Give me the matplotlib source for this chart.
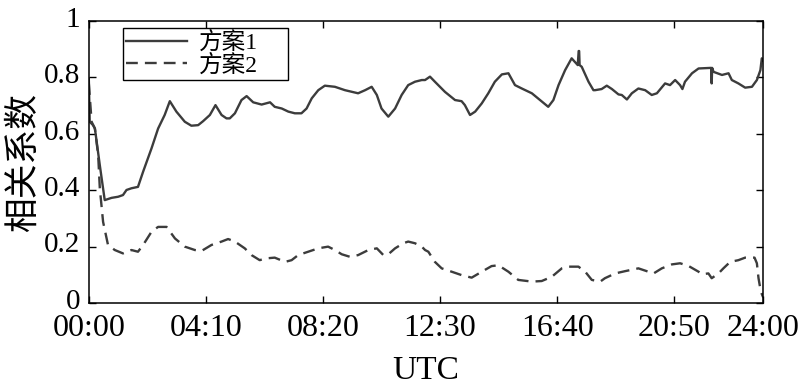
import numpy as np
import matplotlib
matplotlib.use('Agg')
import matplotlib.pyplot as plt
import matplotlib.transforms as mtransforms

# fonts: Times-like for digits, CJK fallback for Chinese
plt.rcParams['font.family'] = ['Liberation Serif', 'Noto Sans CJK SC']
plt.rcParams['axes.unicode_minus'] = False

# scheme 1 (solid): minutes after 00:00 UTC, correlation coefficient
t1 = [0, 2, 9, 13, 23.5, 34, 48.5, 62.7, 73, 80.5, 91, 105, 116, 134, 148, 162, 173,
      187, 205, 219, 233.5, 244, 258.5, 270.5, 283.5, 294, 301, 312, 326, 337, 351,
      369, 387, 397, 412, 426, 440, 454, 465, 476, 490, 504, 525.5, 547, 575, 590,
      604, 615, 625, 639.5, 654, 668, 682, 696.5, 711, 718, 728.5, 739, 760.5, 782,
      796, 803, 814, 825, 839, 853, 867, 882, 896, 910, 924.5, 946, 963.5, 981, 992,
      1003, 1017, 1031, 1044, 1046, 1047, 1048, 1052.5, 1067, 1077.5, 1081, 1095,
      1106, 1117, 1131, 1138, 1149, 1159.5, 1173.5, 1188, 1202, 1213, 1230.5, 1241,
      1252, 1262.5, 1267.5, 1273, 1288, 1302, 1327, 1329, 1330, 1331, 1334, 1352,
      1366, 1373, 1387, 1401.5, 1416, 1426.5, 1434, 1437, 1440]
r1 = [0.797, 0.643, 0.631, 0.619, 0.489, 0.365, 0.373, 0.377, 0.383, 0.401, 0.407,
      0.412, 0.466, 0.549, 0.619, 0.667, 0.716, 0.679, 0.643, 0.629, 0.631, 0.645,
      0.667, 0.702, 0.667, 0.655, 0.655, 0.673, 0.720, 0.734, 0.712, 0.704, 0.712,
      0.696, 0.690, 0.679, 0.673, 0.673, 0.690, 0.726, 0.755, 0.771, 0.767, 0.755,
      0.744, 0.755, 0.767, 0.738, 0.690, 0.661, 0.690, 0.738, 0.773, 0.785, 0.791,
      0.791, 0.803, 0.785, 0.749, 0.720, 0.716, 0.702, 0.667, 0.679, 0.708, 0.744,
      0.785, 0.811, 0.815, 0.773, 0.761, 0.744, 0.720, 0.696, 0.720, 0.773, 0.826,
      0.868, 0.844, 0.894, 0.894, 0.844, 0.838, 0.785, 0.755, 0.755, 0.759, 0.771,
      0.759, 0.740, 0.738, 0.722, 0.744, 0.761, 0.755, 0.738, 0.744, 0.779, 0.773,
      0.791, 0.773, 0.759, 0.785, 0.815, 0.832, 0.834, 0.834, 0.779, 0.834, 0.820,
      0.809, 0.815, 0.791, 0.779, 0.764, 0.767, 0.791, 0.826, 0.868, 0.860]

# scheme 2 (dashed)
t2 = [0, 6, 13, 20, 23.5, 30.5, 41, 55.5, 73, 91, 105, 116, 134, 148, 166, 184, 205,
      226.5, 241, 262, 283.5, 297.5, 312, 333, 347.5, 365, 376, 397, 419, 433, 447,
      468.5, 490, 511, 525.5, 540, 557.5, 575, 597, 615, 629, 639.5, 654, 671.5, 682,
      696.5, 711, 718, 725, 739, 753.5, 775, 796, 817.5, 839, 860, 874.5, 896, 917,
      946, 967, 988.5, 1010, 1024, 1045.5, 1060, 1074, 1092, 1102, 1124, 1145,
      1173.5, 1195, 1206, 1223.5, 1245, 1262.5, 1280, 1302, 1309, 1323, 1330, 1344.5,
      1355, 1369.5, 1387, 1401.5, 1421.5, 1426.5, 1430, 1435, 1440]
r2 = [0.780, 0.643, 0.619, 0.525, 0.407, 0.288, 0.206, 0.188, 0.176, 0.188, 0.182,
      0.206, 0.253, 0.270, 0.270, 0.229, 0.200, 0.188, 0.185, 0.206, 0.218, 0.227,
      0.218, 0.194, 0.170, 0.152, 0.158, 0.161, 0.146, 0.152, 0.170, 0.182, 0.194,
      0.200, 0.188, 0.173, 0.164, 0.170, 0.188, 0.194, 0.170, 0.173, 0.194, 0.212,
      0.218, 0.212, 0.200, 0.188, 0.182, 0.146, 0.123, 0.111, 0.099, 0.090, 0.111,
      0.131, 0.134, 0.111, 0.082, 0.076, 0.078, 0.093, 0.123, 0.129, 0.129, 0.111,
      0.082, 0.076, 0.088, 0.105, 0.113, 0.123, 0.111, 0.105, 0.123, 0.137, 0.141,
      0.132, 0.111, 0.102, 0.105, 0.088, 0.105, 0.123, 0.146, 0.152, 0.161, 0.161,
      0.141, 0.088, 0.040, 0.020]

xticks = [0, 250, 500, 750, 1000, 1250, 1440]
xticklabels = ['00:00', '04:10', '08:20', '12:30', '16:40', '20:50', '24:00']
yticks = [0, 0.2, 0.4, 0.6, 0.8, 1.0]
yticklabels = ['0', '0.2', '0.4', '0.6', '0.8', '1']

fig = plt.figure(figsize=(8, 3.91), dpi=100)
ax = fig.add_axes([0.111, 0.225, 0.843, 0.721])

col = '#3c3c3c'
ax.plot(t1, r1, color=col, lw=1.7, label='方案1')
ax.plot(t2, r2, color=col, lw=1.7, ls=(0, (5, 3)), label='方案2')

ax.set_xlim(0, 1440)
ax.set_ylim(0, 1)
ax.set_xticks(xticks)
ax.set_xticklabels(xticklabels, fontsize=23)
ax.set_yticks(yticks)
ax.set_yticklabels(yticklabels, fontsize=21)
ax.tick_params(direction='in', length=5, width=1, top=True, right=True)
ax.tick_params(axis='x', pad=8)
ax.tick_params(axis='y', pad=6)
# y tick labels sit a little above their ticks in the original
shift = mtransforms.ScaledTranslation(0, 3 / 72, fig.dpi_scale_trans)
for lab in ax.get_yticklabels():
    lab.set_transform(lab.get_transform() + shift)
for s in ax.spines.values():
    s.set_linewidth(1.1)

ax.set_xlabel('UTC', fontsize=24, labelpad=9)
ax.set_ylabel('相关系数', fontsize=25, labelpad=2)

leg = ax.legend(loc='upper left', bbox_to_anchor=(0.05, 0.795, 0.246, 0.18),
                mode='expand', borderaxespad=0,
                fontsize=17, handlelength=2.6, labelspacing=0.0,
                borderpad=0.15, handletextpad=0.5, fancybox=False, framealpha=1)
leg.get_frame().set_edgecolor('black')
leg.get_frame().set_linewidth(1)

fig.savefig('out.png', dpi=100)
